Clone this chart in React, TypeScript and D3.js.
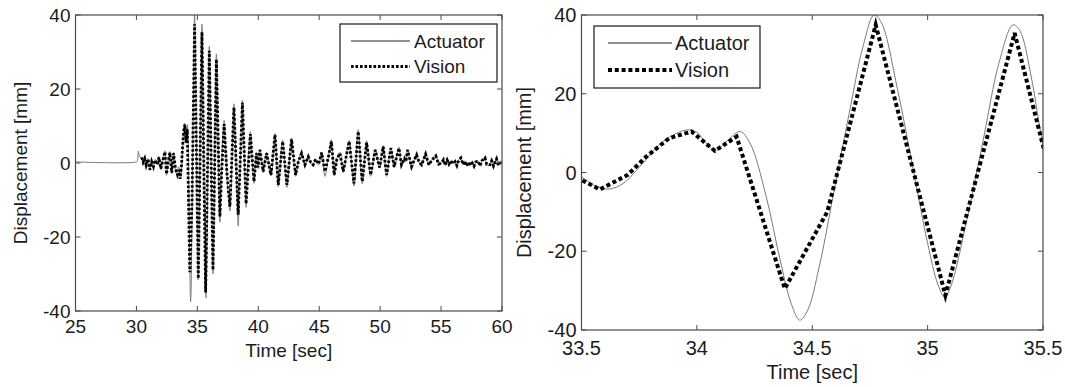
import React from 'react';
import * as d3 from 'd3';

type Pt = [number, number];

// Axis ticks
const timeTicksWide = [25, 30, 35, 40, 45, 50, 55, 60];
const timeTicksZoom = [33.5, 34, 34.5, 35, 35.5];
const dispTicks = [-40, -20, 0, 20, 40];
const seriesNames = ['Actuator', 'Vision'];
const xAxisTitle = 'Time [sec]';
const yAxisTitle = 'Displacement [mm]';

// Actuator command displacement [time s, displacement mm]
const actuatorTrace: Pt[] = [
  [25, 0.3], [30.0, 0.3], [30.08, 0.6], [30.15, 3.2], [30.22, 2.2], [30.3, 1.6], [30.43, 1.2],
  [30.55, 0.0], [30.68, 1.4], [30.8, -0.8], [30.95, 1.2], [31.1, -2.0], [31.25, 0.5], [31.4, -1.2],
  [31.55, 1.0], [31.7, -0.5], [31.85, 1.8], [32.0, -1.8], [32.15, 0.5], [32.34, 3.3], [32.47, -3.3],
  [32.6, 0.4], [32.75, 3.1], [32.9, -2.9], [33.05, 2.9], [33.2, -1.7], [33.37, -3.4], [33.45, -1.0],
  [33.5, -1.2], [33.56, -3.5], [33.62, -4.2], [33.68, -2.8], [33.76, 2.0], [33.84, 7.2], [33.9, 9.6],
  [33.955, 10.8], [34.0, 10.2], [34.04, 7.5], [34.08, 5.6], [34.13, 8.0], [34.187, 10.4], [34.23, 7.5],
  [34.3, -6], [34.36, -22], [34.41, -33.5], [34.446, -37.5], [34.48, -35], [34.53, -24], [34.6, -3],
  [34.66, 15], [34.72, 32], [34.768, 40], [34.8, 38], [34.87, 21], [34.94, 0], [35.0, -18],
  [35.045, -28.5], [35.074, -31.6], [35.1, -29], [35.17, -12], [35.24, 8], [35.31, 28], [35.37, 37.5],
  [35.4, 36], [35.45, 24], [35.5, 7], [35.58, -12], [35.66, -30], [35.71, -36.5], [35.76, -30],
  [35.85, -5], [35.93, 20], [35.98, 31.5], [36.03, 27], [36.12, 5], [36.22, -22], [36.28, -30],
  [36.33, -24], [36.42, 0], [36.5, 22], [36.56, 29.5], [36.62, 22], [36.72, 0], [36.8, -13],
  [36.85, -16], [36.92, -10], [37.0, -1], [37.1, 8], [37.2, 11.5], [37.3, 6], [37.42, -3],
  [37.55, -9], [37.67, -13], [37.8, -4], [37.9, 8], [38.0, 16], [38.1, 8], [38.22, -6], [38.35, -17],
  [38.45, -8], [38.55, 4], [38.7, 17], [38.8, 8], [38.9, -4], [39.0, -12], [39.1, -4], [39.2, 3],
  [39.35, 8.5], [39.5, 0], [39.65, -5.5], [39.85, 3.0], [39.98, -1.5], [40.13, 3.8], [40.4, -2.6],
  [40.68, 2.9], [41.04, -3.5], [41.37, 8.0], [41.64, -6.4], [42.0, 6.2], [42.35, -6.6], [42.73, 6.8],
  [43.06, -3.6], [43.3, 0.4], [43.55, 2.9], [43.83, -0.8], [44.1, 1.9], [44.3, 0.1], [44.5, -0.8],
  [44.7, 1.2], [44.95, -0.5], [45.2, 3.0], [45.47, -3.6], [45.75, 1.6], [46.0, 6.3], [46.23, -3.5],
  [46.45, 1.2], [46.7, 2.9], [46.97, -2.6], [47.2, 1.6], [47.46, 6.1], [47.85, -6.2], [48.2, 9.0],
  [48.53, -5.6], [48.89, 6.0], [49.22, -3.6], [49.6, 3.8], [49.95, -1.4], [50.25, 4.7], [50.53, -3.6],
  [50.88, 4.2], [51.15, -1.3], [51.54, 4.3], [51.75, -0.7], [52.0, 1.3], [52.12, 0.3], [52.25, 3.7],
  [52.58, -1.2], [52.8, 0.9], [52.99, 2.4], [53.2, 0.1], [53.4, -0.7], [53.73, 2.6], [54.0, -0.7],
  [54.25, 0.9], [54.57, 2.1], [54.8, -0.4], [55.03, -0.1], [55.2, 1.0], [55.35, -0.7], [55.5, 0.9],
  [55.65, -0.4], [55.8, 0.7], [56.0, -0.3], [56.15, 0.5], [56.3, -0.8], [56.45, 0.9], [56.63, 1.5],
  [56.8, -0.5], [56.95, 0.6], [57.1, -0.9], [57.25, 0.3], [57.4, -0.7], [57.55, 0.1], [57.7, -1.0],
  [57.85, 0.4], [58.04, 0.6], [58.2, -0.9], [58.35, 0.7], [58.6, 1.5], [58.75, -0.5], [59.0, -0.6],
  [59.15, 0.7], [59.3, -0.9], [59.45, 0.5], [59.55, 1.2], [59.7, -0.8], [59.85, 0.6], [60, -0.2],
];

// Vision-measured displacement [time s, displacement mm]
const visionTrace: Pt[] = [
  [30.43, 1.5], [30.55, 0.2], [30.68, 1.2], [30.8, -0.6], [30.95, 1.0], [31.1, -1.8], [31.25, 0.4],
  [31.4, -1.0], [31.55, 0.8], [31.7, -0.4], [31.85, 1.5], [32.0, -1.5], [32.15, 0.4], [32.34, 3.0],
  [32.47, -3.0], [32.6, 0.3], [32.75, 2.8], [32.9, -2.6], [33.05, 2.6], [33.2, -1.5], [33.37, -3.2],
  [33.5, -1.9], [33.58, -4.3], [33.7, -0.6], [33.78, 4.0], [33.88, 8.7], [33.977, 10.4], [34.078, 5.5],
  [34.172, 9.1], [34.381, -29.5], [34.565, -10], [34.775, 37.5], [35.077, -31.2], [35.377, 35.4],
  [35.68, -35], [35.98, 30.3], [36.28, -28.9], [36.56, 28], [36.85, -14.5], [37.0, -2], [37.2, 10.5],
  [37.42, -2.5], [37.67, -11.8], [38.0, 15], [38.35, -14], [38.7, 16.3], [39.0, -11], [39.35, 7.8],
  [39.65, -5], [39.85, 2.6], [39.98, -1.2], [40.13, 3.5], [40.4, -2.3], [40.68, 2.6], [41.04, -3.2],
  [41.37, 7.6], [41.64, -5.9], [42.0, 5.8], [42.35, -5.9], [42.73, 6.4], [43.06, -3.2], [43.3, 0.5],
  [43.55, 2.6], [43.83, -0.5], [44.1, 1.7], [44.3, 0.2], [44.5, -0.5], [44.7, 1.0], [44.95, -0.3],
  [45.2, 2.8], [45.47, -2.3], [45.75, 1.5], [46.0, 5.8], [46.23, -3.2], [46.45, 1.0], [46.7, 2.6],
  [46.97, -2.3], [47.2, 1.5], [47.46, 5.8], [47.85, -5.5], [48.2, 8.5], [48.53, -5], [48.89, 5.5],
  [49.22, -3.2], [49.6, 3.5], [49.95, -1.2], [50.25, 4.4], [50.53, -3.2], [50.88, 4], [51.15, -1],
  [51.54, 4], [51.75, -0.5], [52.0, 1.2], [52.12, 0.4], [52.25, 3.5], [52.58, -1], [52.8, 0.8],
  [52.99, 2.2], [53.2, 0.2], [53.4, -0.5], [53.73, 2.4], [54.0, -0.5], [54.25, 0.8], [54.57, 1.9],
  [54.8, -0.3], [55.03, 0], [55.2, 0.9], [55.35, -0.6], [55.5, 0.8], [55.65, -0.3], [55.8, 0.6],
  [56.0, -0.2], [56.15, 0.4], [56.3, -0.7], [56.45, 0.8], [56.63, 1.4], [56.8, -0.4], [56.95, 0.5],
  [57.1, -0.8], [57.25, 0.2], [57.4, -0.6], [57.55, 0.0], [57.7, -0.9], [57.85, 0.3], [58.04, 0.5],
  [58.2, -0.8], [58.35, 0.6], [58.6, 1.4], [58.75, -0.4], [59.0, -0.5], [59.15, 0.6], [59.3, -0.8],
  [59.45, 0.4], [59.55, 1.1], [59.7, -0.7], [59.85, 0.5], [60, -0.2],
];

interface PanelProps {
  id: string;
  left: number;
  right: number;
  top: number;
  bottom: number;
  xDomain: [number, number];
  xTicks: number[];
  fontSize: number;
  tickLabelGap: number;
  titleGap: number;
  yTitleX: number;
  visionWidth: number;
  visionDash: string;
  legend: { x: number; y: number; w: number; h: number; lineX0: number; lineX1: number; textX: number; row1: number; row2: number };
}

const INK = '#1c1c1c';
const FRAME = '#4a4a4a';

function Panel(p: PanelProps) {
  const x = d3.scaleLinear().domain(p.xDomain).range([p.left, p.right]);
  const y = d3.scaleLinear().domain([-40, 40]).range([p.bottom, p.top]);
  const pad = 0.6;
  const inView = (d: Pt) => d[0] >= p.xDomain[0] - pad && d[0] <= p.xDomain[1] + pad;

  const smooth = d3
    .line<Pt>()
    .x((d) => x(d[0]))
    .y((d) => y(d[1]))
    .curve(d3.curveCatmullRom.alpha(0.5));
  const straight = d3
    .line<Pt>()
    .x((d) => x(d[0]))
    .y((d) => y(d[1]));

  const actPath = smooth(actuatorTrace.filter(inView)) || '';
  const visPath = straight(visionTrace.filter(inView)) || '';
  const tl = 5;
  const lg = p.legend;
  const cy = (p.top + p.bottom) / 2;
  const cx = (p.left + p.right) / 2;

  return (
    <g>
      <defs>
        <clipPath id={p.id}>
          <rect x={p.left} y={p.top} width={p.right - p.left} height={p.bottom - p.top} />
        </clipPath>
      </defs>
      <g clipPath={`url(#${p.id})`}>
        <path d={actPath} fill="none" stroke="#7a7a7a" strokeWidth={1} />
        <path
          d={visPath}
          fill="none"
          stroke="#000"
          strokeWidth={p.visionWidth}
          strokeDasharray={p.visionDash}
        />
      </g>

      <rect
        x={p.left}
        y={p.top}
        width={p.right - p.left}
        height={p.bottom - p.top}
        fill="none"
        stroke={FRAME}
        strokeWidth={1.2}
      />

      {p.xTicks.map((t) => (
        <g key={`xt${t}`}>
          <line x1={x(t)} x2={x(t)} y1={p.bottom} y2={p.bottom - tl} stroke={FRAME} />
          <line x1={x(t)} x2={x(t)} y1={p.top} y2={p.top + tl} stroke={FRAME} />
          <text
            x={x(t)}
            y={p.bottom + p.tickLabelGap}
            textAnchor="middle"
            fontSize={p.fontSize}
            fill={INK}
          >
            {String(t)}
          </text>
        </g>
      ))}
      {dispTicks.map((v) => (
        <g key={`yt${v}`}>
          <line x1={p.left} x2={p.left + tl} y1={y(v)} y2={y(v)} stroke={FRAME} />
          <line x1={p.right} x2={p.right - tl} y1={y(v)} y2={y(v)} stroke={FRAME} />
          <text
            x={p.left - 5}
            y={y(v)}
            dy="0.36em"
            textAnchor="end"
            fontSize={p.fontSize}
            fill={INK}
          >
            {String(v)}
          </text>
        </g>
      ))}

      <text x={cx} y={p.bottom + p.titleGap} textAnchor="middle" fontSize={p.fontSize} fill={INK}>
        {xAxisTitle}
      </text>
      <text
        transform={`translate(${p.yTitleX},${cy}) rotate(-90)`}
        dy="0.36em"
        textAnchor="middle"
        fontSize={p.fontSize}
        fill={INK}
      >
        {yAxisTitle}
      </text>

      <g>
        <rect x={lg.x} y={lg.y} width={lg.w} height={lg.h} fill="#fff" stroke="#2a2a2a" strokeWidth={1.3} />
        <line x1={lg.lineX0} x2={lg.lineX1} y1={lg.row1} y2={lg.row1} stroke="#222" strokeWidth={1} />
        <text x={lg.textX} y={lg.row1} dy="0.36em" fontSize={p.fontSize} fill={INK}>
          {seriesNames[0]}
        </text>
        <line
          x1={lg.lineX0}
          x2={lg.lineX1}
          y1={lg.row2}
          y2={lg.row2}
          stroke="#000"
          strokeWidth={p.visionWidth}
          strokeDasharray={p.visionDash}
        />
        <text x={lg.textX} y={lg.row2} dy="0.36em" fontSize={p.fontSize} fill={INK}>
          {seriesNames[1]}
        </text>
      </g>
    </g>
  );
}

export default function App() {
  return (
    <svg
      width={1065}
      height={387}
      style={{ position: 'absolute', left: 0, top: 0, background: '#fff' }}
      fontFamily="'Liberation Sans', Arial, sans-serif"
    >
      <Panel
        id="clip-wide"
        left={75.5}
        right={502}
        top={15}
        bottom={311}
        xDomain={[25, 60]}
        xTicks={timeTicksWide}
        fontSize={19}
        tickLabelGap={22}
        titleGap={46}
        yTitleX={20}
        visionWidth={2.8}
        visionDash="2.6 1.9"
        legend={{ x: 340, y: 24, w: 157, h: 58, lineX0: 351, lineX1: 410, textX: 414, row1: 41, row2: 66.5 }}
      />
      <Panel
        id="clip-zoom"
        left={581.5}
        right={1043}
        top={15}
        bottom={330}
        xDomain={[33.5, 35.5]}
        xTicks={timeTicksZoom}
        fontSize={20}
        tickLabelGap={25}
        titleGap={49}
        yTitleX={524}
        visionWidth={4}
        visionDash="4 2.8"
        legend={{ x: 594, y: 26, w: 166, h: 62, lineX0: 608, lineX1: 672, textX: 675, row1: 43, row2: 70 }}
      />
    </svg>
  );
}
